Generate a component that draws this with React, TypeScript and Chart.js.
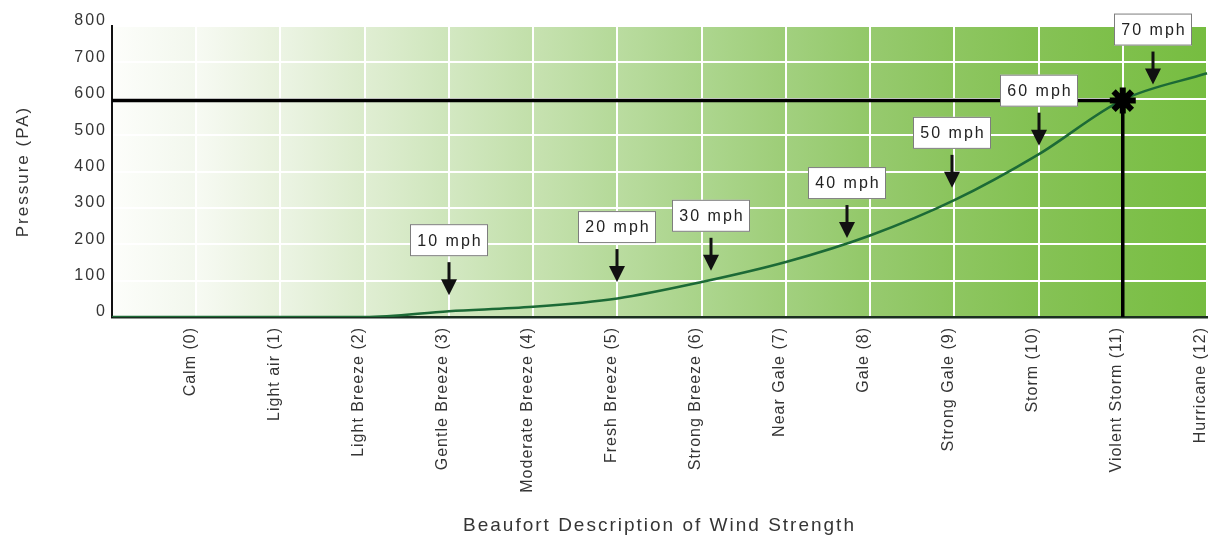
import React, { useEffect, useRef } from 'react';
import { Chart, registerables } from 'chart.js';

Chart.register(...registerables);

// ---- data ----
const categories = [
  '',
  'Calm (0)',
  'Light air (1)',
  'Light Breeze (2)',
  'Gentle Breeze (3)',
  'Moderate Breeze (4)',
  'Fresh Breeze (5)',
  'Strong Breeze (6)',
  'Near Gale (7)',
  'Gale (8)',
  'Strong Gale (9)',
  'Storm (10)',
  'Violent Storm (11)',
  'Hurricane (12)',
];
const pressure = [0, 0, 0, 0, 16, 28, 51, 96, 151, 224, 321, 447, 597, 670];

const yMin = 0;
const yMax = 800;
const yStep = 100;

const windLabels = ['10 mph', '20 mph', '30 mph', '40 mph', '50 mph', '60 mph', '70 mph'];
const windBeaufort = [3, 5, 6.11, 7.73, 8.97, 10, 11.36];
const windTipPressure = [60, 96, 127, 217, 355, 471, 639];

const markerCategory = 'Violent Storm (11)';
const markerPressure = 595;

const xTitle = 'Beaufort Description of Wind Strength';
const yTitle = 'Pressure (PA)';

// ---- styles ----
const FAMILY = "'Liberation Sans', Arial, Helvetica, sans-serif";
const TEXT = '#353535';
const SPACING = '2px';
const TICK_SPACING = '1px';

const bgStops: [number, number[]][] = [
  [0.0, [253, 254, 251]],
  [0.08, [242, 247, 236]],
  [0.16, [230, 241, 219]],
  [0.23, [218, 235, 203]],
  [0.31, [205, 229, 186]],
  [0.39, [192, 223, 168]],
  [0.46, [180, 217, 152]],
  [0.54, [168, 211, 136]],
  [0.62, [156, 205, 118]],
  [0.69, [146, 200, 104]],
  [0.77, [138, 196, 92]],
  [0.85, [130, 193, 80]],
  [0.92, [124, 191, 72]],
  [1.0, [118, 189, 64]],
];

function colorAt(t: number): string {
  const tt = Math.max(0, Math.min(1, t));
  for (let i = 0; i < bgStops.length - 1; i++) {
    const [t0, c0] = bgStops[i];
    const [t1, c1] = bgStops[i + 1];
    if (tt >= t0 && tt <= t1) {
      const f = (tt - t0) / (t1 - t0 || 1);
      const c = c0.map((v, k) => Math.round(v + (c1[k] - v) * f));
      return `rgb(${c[0]},${c[1]},${c[2]})`;
    }
  }
  const c = bgStops[bgStops.length - 1][1];
  return `rgb(${c[0]},${c[1]},${c[2]})`;
}

const spacingPlugin = {
  id: 'spacing',
  beforeUpdate(chart: any) {
    chart.ctx.letterSpacing = SPACING;
  },
  beforeDraw(chart: any) {
    chart.ctx.letterSpacing = SPACING;
  },
};

const backgroundPlugin = {
  id: 'columnsBg',
  beforeDraw(chart: any) {
    const { ctx, chartArea: a, scales } = chart;
    const xs = scales.x;
    const w = a.right - a.left;
    ctx.save();
    for (let i = 0; i < categories.length - 1; i++) {
      const xL = xs.getPixelForValue(i);
      const xR = xs.getPixelForValue(i + 1);
      const tL = (xL - a.left) / w;
      const tR = (xR - a.left) / w;
      const g = ctx.createLinearGradient(xL, 0, xR, 0);
      g.addColorStop(0, colorAt(tL - 0.035));
      g.addColorStop(1, colorAt(tR));
      ctx.fillStyle = g;
      ctx.fillRect(xL, a.top, xR - xL + 0.5, a.bottom - a.top);
    }
    ctx.restore();
  },
};

const calloutPlugin = {
  id: 'callouts',
  afterDatasetsDraw(chart: any) {
    const { ctx, scales } = chart;
    const xs = scales.x;
    const ys = scales.y;
    ctx.save();
    ctx.letterSpacing = SPACING;
    windLabels.forEach((label, i) => {
      const x = Math.round(xs.getPixelForValue(windBeaufort[i] + 1));
      const tip = ys.getPixelForValue(windTipPressure[i]);
      // arrow
      ctx.fillStyle = '#111111';
      ctx.fillRect(x - 1.5, tip - 33, 3, 19);
      ctx.beginPath();
      ctx.moveTo(x - 8, tip - 16);
      ctx.lineTo(x + 8, tip - 16);
      ctx.lineTo(x, tip);
      ctx.closePath();
      ctx.fill();
      // box
      const bw = 78;
      const bh = 32;
      const by = tip - 39 - bh;
      ctx.fillStyle = '#ffffff';
      ctx.fillRect(x - bw / 2, by, bw, bh);
      ctx.strokeStyle = '#7d7d7d';
      ctx.lineWidth = 1;
      ctx.strokeRect(x - bw / 2 + 0.5, by + 0.5, bw - 1, bh - 1);
      ctx.fillStyle = '#222222';
      ctx.font = `16px ${FAMILY}`;
      ctx.textAlign = 'center';
      ctx.textBaseline = 'middle';
      ctx.fillText(label, x + 1, by + bh / 2 + 1);
    });
    ctx.restore();
    // x tick labels (drawn in a later layer) use tighter tracking
    ctx.letterSpacing = TICK_SPACING;
  },
};

export default function App() {
  const canvasRef = useRef<HTMLCanvasElement | null>(null);

  useEffect(() => {
    if (!canvasRef.current) return;
    const chart = new Chart(canvasRef.current, {
      type: 'line',
      data: {
        labels: categories,
        datasets: [
          {
            label: 'Pressure',
            data: pressure,
            borderColor: '#1c6a36',
            borderWidth: 2.5,
            pointRadius: 0,
            cubicInterpolationMode: 'monotone',
            fill: false,
            order: 3,
          },
          {
            label: 'h',
            data: [
              { x: categories[0], y: markerPressure },
              { x: markerCategory, y: markerPressure },
            ],
            borderColor: '#000000',
            borderWidth: 3.5,
            pointRadius: 0,
            order: 2,
          },
          {
            label: 'v',
            data: [
              { x: markerCategory, y: markerPressure },
              { x: markerCategory, y: yMin },
            ],
            borderColor: '#000000',
            borderWidth: 3.5,
            pointRadius: 0,
            order: 2,
          },
          {
            label: 'marker',
            data: [{ x: markerCategory, y: markerPressure }],
            showLine: false,
            pointStyle: 'star',
            pointRadius: 13,
            pointBorderWidth: 6,
            borderColor: '#000000',
            pointBorderColor: '#000000',
            pointBackgroundColor: '#000000',
            order: 0,
          },
        ] as any,
      },
      options: {
        animation: false,
        responsive: true,
        maintainAspectRatio: false,
        events: [],
        layout: { autoPadding: false, padding: { top: 26, right: 9, left: 0, bottom: 0 } },
        plugins: {
          legend: { display: false },
          tooltip: { enabled: false },
        },
        scales: {
          x: {
            type: 'category',
            offset: false,
            grid: { color: '#ffffff', lineWidth: 2, drawTicks: false },
            border: { color: '#1b2f20', width: 2.5 },
            ticks: {
              autoSkip: false,
              maxRotation: 90,
              minRotation: 90,
              padding: 10,
              labelOffset: -6,
              color: TEXT,
              z: 1,
              font: { family: FAMILY, size: 16 },
            },
            title: {
              display: true,
              text: xTitle,
              color: TEXT,
              font: { family: FAMILY, size: 19 },
              padding: 0,
            },
            afterFit: (s: any) => {
              s.height = 220;
              s.paddingRight = 0;
              s.paddingLeft = 0;
            },
          },
          y: {
            min: yMin,
            max: yMax,
            grid: {
              color: (c: any) => (c.tick && c.tick.value === yMin ? 'rgba(0,0,0,0)' : '#ffffff'),
              lineWidth: 2,
              drawTicks: false,
            },
            border: { color: '#111111', width: 2 },
            ticks: {
              stepSize: yStep,
              padding: 5,
              labelOffset: -5,
              color: TEXT,
              font: { family: FAMILY, size: 16 },
            },
            title: {
              display: true,
              text: yTitle,
              color: TEXT,
              font: { family: FAMILY, size: 17 },
              padding: { top: 13, bottom: 0 },
            },
            afterFit: (s: any) => {
              s.width = 112;
              s.paddingTop = 0;
              s.paddingBottom = 0;
            },
          },
        },
      } as any,
      plugins: [spacingPlugin, backgroundPlugin, calloutPlugin],
    });
    return () => chart.destroy();
  }, []);

  return (
    <div style={{ position: 'fixed', left: 0, top: 0, width: 1216, height: 537, background: '#ffffff' }}>
      <canvas ref={canvasRef} />
    </div>
  );
}
